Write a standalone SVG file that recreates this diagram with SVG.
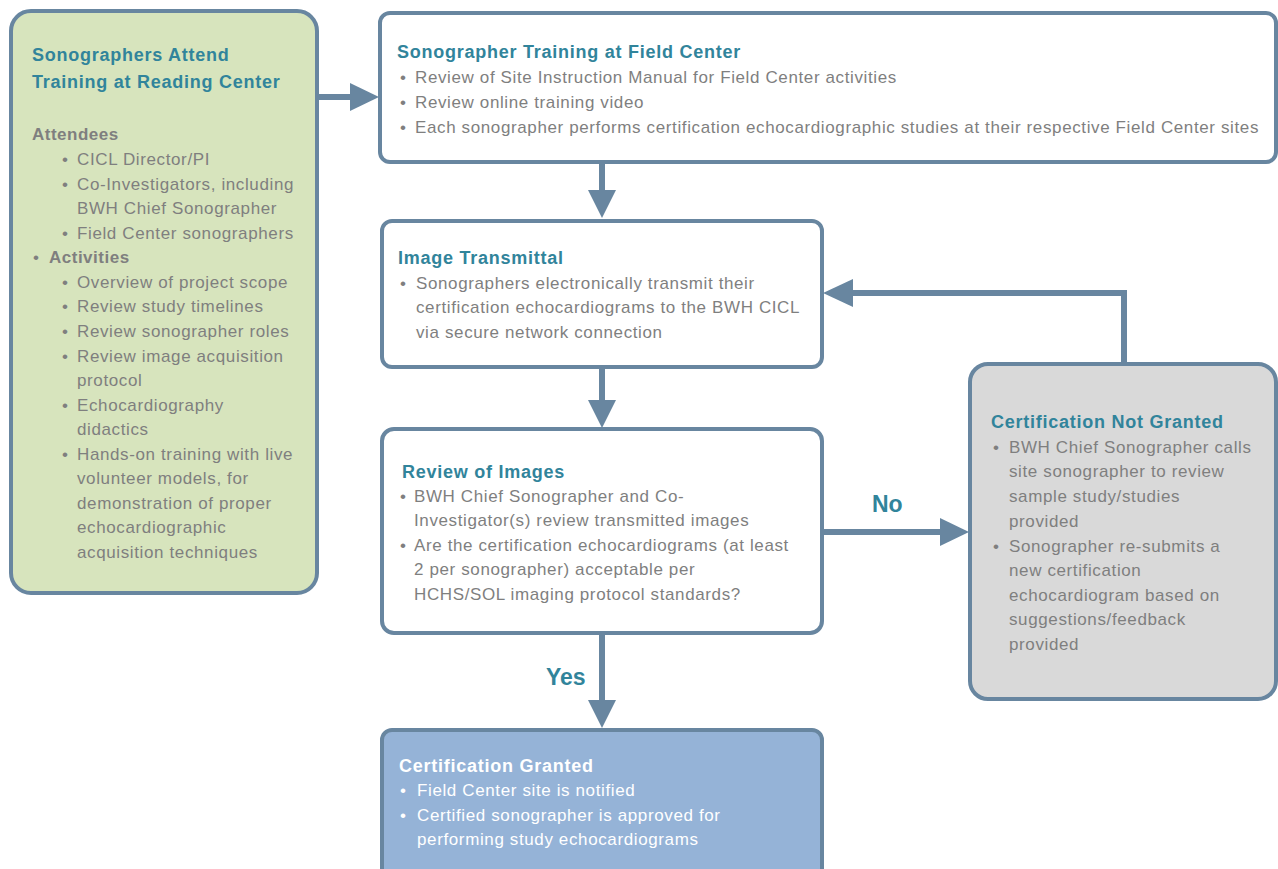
<svg xmlns="http://www.w3.org/2000/svg" width="1278" height="869" viewBox="0 0 1278 869">
<defs>
<style>
.box{stroke:#6886a0;stroke-width:4}
.t{font-family:"Liberation Sans",Arial,sans-serif;font-size:17px;letter-spacing:0.62px;fill:#7f7f7f}
.h{font-family:"Liberation Sans",Arial,sans-serif;font-size:18px;letter-spacing:0.75px;font-weight:bold;fill:#31849b}
.hb{font-family:"Liberation Sans",Arial,sans-serif;font-size:17px;letter-spacing:0.5px;font-weight:bold;fill:#7f7f7f}
.wt{fill:#ffffff}
.lbl{font-family:"Liberation Sans",Arial,sans-serif;font-size:23px;font-weight:bold;fill:#31849b}
.ln{stroke:#6886a0;stroke-width:6;fill:none}
.ah{fill:#6886a0}
</style>
</defs>
<rect width="1278" height="869" fill="#ffffff"/>
<g id="connectors">
<line class="ln" x1="317" y1="97" x2="352" y2="97"/>
<polygon class="ah" points="350,83 379,97 350,111"/>
<line class="ln" x1="602" y1="162" x2="602" y2="192"/>
<polygon class="ah" points="588,190 602,218 616,190"/>
<line class="ln" x1="602" y1="368" x2="602" y2="402"/>
<polygon class="ah" points="588,400 602,428 616,400"/>
<line class="ln" x1="823" y1="532" x2="942" y2="532"/>
<polygon class="ah" points="940,518 969,532 940,546"/>
<polyline class="ln" points="1124,363 1124,293 851,293"/>
<polygon class="ah" points="853,279 823,293 853,307"/>
<line class="ln" x1="602" y1="633" x2="602" y2="702"/>
<polygon class="ah" points="588,700 602,728 616,700"/>
<text class="lbl" x="872" y="512">No</text>
<text class="lbl" x="546" y="685">Yes</text>
</g>
<g id="node-reading-center">
<rect class="box" x="11" y="11" width="306" height="582" rx="20" fill="#d7e4bd"/>
<text class="h" x="32" y="61">Sonographers Attend</text>
<text class="h" x="32" y="88">Training at Reading Center</text>
<text class="hb" x="32" y="140">Attendees</text>
<text class="t" x="62" y="165">•</text><text class="t" x="77" y="165">CICL Director/PI</text>
<text class="t" x="62" y="190">•</text><text class="t" x="77" y="190">Co-Investigators, including</text>
<text class="t" x="77" y="214">BWH Chief Sonographer</text>
<text class="t" x="62" y="239">•</text><text class="t" x="77" y="239">Field Center sonographers</text>
<text class="t" x="33" y="263">•</text><text class="hb" x="49" y="263">Activities</text>
<text class="t" x="62" y="288">•</text><text class="t" x="77" y="288">Overview of project scope</text>
<text class="t" x="62" y="312">•</text><text class="t" x="77" y="312">Review study timelines</text>
<text class="t" x="62" y="337">•</text><text class="t" x="77" y="337">Review sonographer roles</text>
<text class="t" x="62" y="362">•</text><text class="t" x="77" y="362">Review image acquisition</text>
<text class="t" x="77" y="386">protocol</text>
<text class="t" x="62" y="411">•</text><text class="t" x="77" y="411">Echocardiography</text>
<text class="t" x="77" y="435">didactics</text>
<text class="t" x="62" y="460">•</text><text class="t" x="77" y="460">Hands-on training with live</text>
<text class="t" x="77" y="484">volunteer models, for</text>
<text class="t" x="77" y="509">demonstration of proper</text>
<text class="t" x="77" y="533">echocardiographic</text>
<text class="t" x="77" y="558">acquisition techniques</text>
</g>
<g id="node-field-center">
<rect class="box" x="380" y="13" width="896" height="149" rx="10" fill="#ffffff"/>
<text class="h" x="397" y="58">Sonographer Training at Field Center</text>
<text class="t" x="400" y="83">•</text><text class="t" x="415" y="83">Review of Site Instruction Manual for Field Center activities</text>
<text class="t" x="400" y="108">•</text><text class="t" x="415" y="108">Review online training video</text>
<text class="t" x="400" y="133">•</text><text class="t" x="415" y="133">Each sonographer performs certification echocardiographic studies at their respective Field Center sites</text>
</g>
<g id="node-image-transmittal">
<rect class="box" x="382" y="221" width="440" height="146" rx="10" fill="#ffffff"/>
<text class="h" x="398" y="264">Image Transmittal</text>
<text class="t" x="400" y="289">•</text><text class="t" x="416" y="289">Sonographers electronically transmit their</text>
<text class="t" x="416" y="313">certification echocardiograms to the BWH CICL</text>
<text class="t" x="416" y="338">via secure network connection</text>
</g>
<g id="node-review">
<rect class="box" x="382" y="429" width="440" height="204" rx="12" fill="#ffffff"/>
<text class="h" x="402" y="478">Review of Images</text>
<text class="t" x="400" y="502">•</text><text class="t" x="414" y="502">BWH Chief Sonographer and Co-</text>
<text class="t" x="414" y="526">Investigator(s) review transmitted images</text>
<text class="t" x="400" y="551">•</text><text class="t" x="414" y="551">Are the certification echocardiograms (at least</text>
<text class="t" x="414" y="575">2 per sonographer) acceptable per</text>
<text class="t" x="414" y="600">HCHS/SOL imaging protocol standards?</text>
</g>
<g id="node-not-granted">
<rect class="box" x="970" y="364" width="306" height="335" rx="18" fill="#d9d9d9"/>
<text class="h" x="991" y="428">Certification Not Granted</text>
<text class="t" x="993" y="453">•</text><text class="t" x="1009" y="453">BWH Chief Sonographer calls</text>
<text class="t" x="1009" y="477">site sonographer to review</text>
<text class="t" x="1009" y="502">sample study/studies</text>
<text class="t" x="1009" y="527">provided</text>
<text class="t" x="993" y="552">•</text><text class="t" x="1009" y="552">Sonographer re-submits a</text>
<text class="t" x="1009" y="576">new certification</text>
<text class="t" x="1009" y="601">echocardiogram based on</text>
<text class="t" x="1009" y="625">suggestions/feedback</text>
<text class="t" x="1009" y="650">provided</text>
</g>
<g id="node-granted">
<rect class="box" x="382" y="730" width="440" height="150" rx="10" fill="#95b3d7"/>
<text class="h wt" x="399" y="772">Certification Granted</text>
<text class="t wt" x="400" y="796">•</text><text class="t wt" x="417" y="796">Field Center site is notified</text>
<text class="t wt" x="400" y="821">•</text><text class="t wt" x="417" y="821">Certified sonographer is approved for</text>
<text class="t wt" x="417" y="845">performing study echocardiograms</text>
</g>
</svg>
